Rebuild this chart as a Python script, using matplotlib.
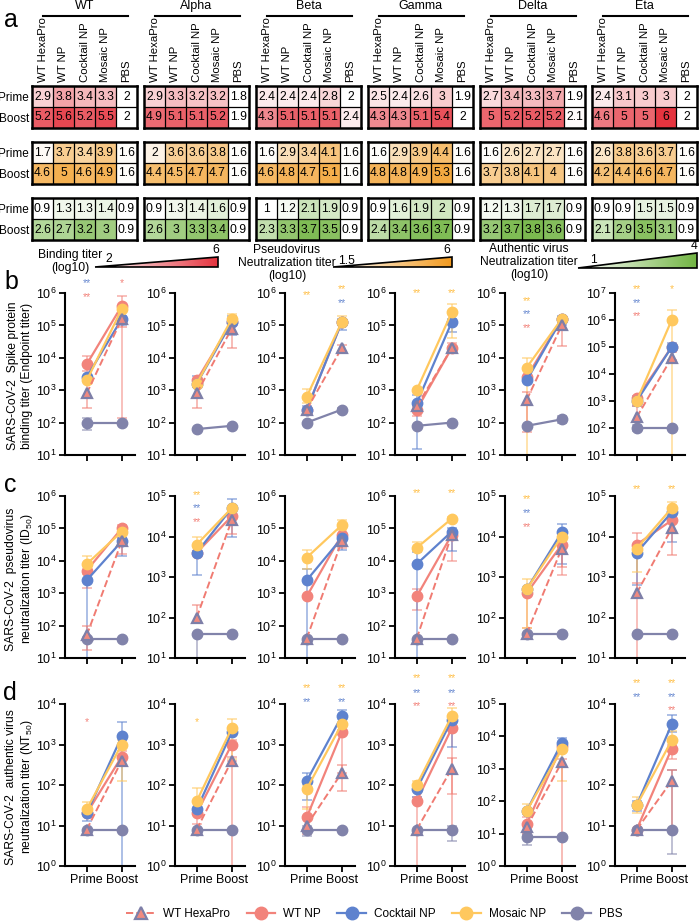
import numpy as np
import matplotlib
matplotlib.use("Agg")
import matplotlib.pyplot as plt
from matplotlib.colors import LinearSegmentedColormap, Normalize
from matplotlib.lines import Line2D
from matplotlib.patches import Polygon

plt.rcParams["font.family"] = ["Liberation Sans", "DejaVu Sans"]
plt.rcParams["mathtext.fontset"] = "custom"
plt.rcParams["mathtext.rm"] = "Liberation Sans"
plt.rcParams["mathtext.it"] = "Liberation Sans:italic"
plt.rcParams["mathtext.bf"] = "Liberation Sans:bold"

variants = ["WT", "Alpha", "Beta", "Gamma", "Delta", "Eta"]
groups = ["WT HexaPro", "WT NP", "Cocktail NP", "Mosaic NP", "PBS"]
timepoints = ["Prime", "Boost"]

# log10 mean titers, one row per variant, one column per group
binding_prime = [
    [2.9, 3.8, 3.4, 3.3, 2.0],
    [2.9, 3.3, 3.2, 3.2, 1.8],
    [2.4, 2.4, 2.4, 2.8, 2.0],
    [2.5, 2.4, 2.6, 3.0, 1.9],
    [2.7, 3.4, 3.3, 3.7, 1.9],
    [2.4, 3.1, 3.0, 3.0, 2.0],
]
binding_boost = [
    [5.2, 5.6, 5.2, 5.5, 2.0],
    [4.9, 5.1, 5.1, 5.2, 1.9],
    [4.3, 5.1, 5.1, 5.1, 2.4],
    [4.3, 4.3, 5.1, 5.4, 2.0],
    [5.0, 5.2, 5.2, 5.2, 2.1],
    [4.6, 5.0, 5.0, 6.0, 2.0],
]
pseudo_prime = [
    [1.7, 3.7, 3.4, 3.9, 1.6],
    [2.0, 3.6, 3.6, 3.8, 1.6],
    [1.6, 2.9, 3.4, 4.1, 1.6],
    [1.6, 2.9, 3.9, 4.4, 1.6],
    [1.6, 2.6, 2.7, 2.7, 1.6],
    [2.6, 3.8, 3.6, 3.7, 1.6],
]
pseudo_boost = [
    [4.6, 5.0, 4.6, 4.9, 1.6],
    [4.4, 4.5, 4.7, 4.7, 1.6],
    [4.6, 4.8, 4.7, 5.1, 1.6],
    [4.8, 4.8, 4.9, 5.3, 1.6],
    [3.7, 3.8, 4.1, 4.0, 1.6],
    [4.2, 4.4, 4.6, 4.7, 1.6],
]
auth_prime = [
    [0.9, 1.3, 1.3, 1.4, 0.9],
    [0.9, 1.3, 1.4, 1.6, 0.9],
    [1.0, 1.2, 2.1, 1.9, 0.9],
    [0.9, 1.6, 1.9, 2.0, 0.9],
    [1.2, 1.3, 1.7, 1.7, 0.9],
    [0.9, 0.9, 1.5, 1.5, 0.9],
]
auth_boost = [
    [2.6, 2.7, 3.2, 3.0, 0.9],
    [2.6, 3.0, 3.3, 3.4, 0.9],
    [2.3, 3.3, 3.7, 3.5, 0.9],
    [2.4, 3.4, 3.6, 3.7, 0.9],
    [3.2, 3.7, 3.8, 3.6, 0.9],
    [2.1, 2.9, 3.5, 3.1, 0.9],
]

# visible error bars, (variant, group, timepoint): (log10 low, log10 high)
binding_err = {
    (0, 0, 0): (2.44, 3.4), (0, 1, 0): (3.6, 4.05), (0, 4, 0): (1.77, 2.13),
    (0, 1, 1): (2.13, 5.9), (0, 2, 1): (5.0, 5.47), (0, 0, 1): (4.95, 5.3),
    (1, 0, 0): (2.44, 3.36), (1, 2, 0): (3.1, 3.45),
    (1, 3, 1): (5.1, 5.36), (1, 2, 1): (4.7, 5.3), (1, 0, 1): (4.3, 5.1),
    (2, 3, 0): (2.6, 3.05), (2, 2, 0): (2.3, 2.5),
    (2, 0, 1): (4.2, 4.4), (2, 2, 1): (4.85, 5.2), (2, 3, 1): (5.0, 5.3), (2, 4, 1): (2.3, 2.45),
    (3, 2, 0): (1.18, 2.85), (3, 1, 0): (2.2, 2.5),
    (3, 3, 1): (4.6, 5.65), (3, 2, 1): (4.8, 5.2), (3, 1, 1): (4.2, 4.45),
    (4, 3, 0): (1.0, 4.0), (4, 0, 0): (1.7, 2.95),
    (4, 0, 1): (4.37, 5.1), (4, 2, 1): (5.0, 5.3), (4, 4, 1): (2.0, 2.2),
    (5, 0, 0): (2.0, 2.8), (5, 4, 0): (1.9, 2.1), (5, 2, 0): (2.8, 3.2),
    (5, 3, 1): (1.0, 6.36), (5, 2, 1): (4.9, 5.15), (5, 0, 1): (4.5, 4.8),
}
pseudo_err = {
    (0, 3, 0): (3.6, 4.14), (0, 1, 0): (3.15, 3.9), (0, 2, 0): (1.0, 3.7), (0, 0, 0): (1.26, 1.98),
    (0, 2, 1): (4.14, 4.7), (0, 0, 1): (4.2, 4.7), (0, 1, 1): (4.9, 5.1),
    (1, 3, 0): (3.6, 4.0), (1, 2, 0): (3.06, 3.65), (1, 0, 0): (1.9, 2.31), (1, 4, 0): (1.0, 1.6),
    (1, 2, 1): (4.0, 4.92), (1, 0, 1): (4.05, 4.55),
    (2, 3, 0): (3.76, 4.32), (2, 2, 0): (1.0, 3.76),
    (2, 3, 1): (4.95, 5.25), (2, 2, 1): (4.32, 4.8), (2, 0, 1): (4.4, 4.75),
    (3, 3, 0): (4.3, 4.58), (3, 2, 0): (1.0, 4.27), (3, 1, 0): (2.47, 3.12),
    (3, 2, 1): (4.3, 5.0), (3, 1, 1): (4.0, 4.9), (3, 3, 1): (5.2, 5.35),
    (4, 3, 0): (1.74, 2.96), (4, 1, 0): (1.74, 2.7),
    (4, 2, 1): (3.33, 4.32), (4, 1, 1): (3.04, 3.9), (4, 0, 1): (3.25, 3.8), (4, 3, 1): (3.9, 4.1),
    (5, 3, 0): (3.12, 3.8), (5, 2, 0): (2.8, 3.7), (5, 1, 0): (1.0, 4.09), (5, 0, 0): (2.5, 2.85),
    (5, 3, 1): (4.6, 4.85), (5, 2, 1): (3.86, 4.7), (5, 0, 1): (3.55, 4.5),
}
auth_err = {
    (0, 3, 0): (1.3, 1.58), (0, 2, 0): (1.1, 1.4),
    (0, 2, 1): (0.0, 3.55), (0, 3, 1): (2.1, 3.1), (0, 1, 1): (2.5, 2.85),
    (1, 3, 0): (1.4, 1.93), (1, 1, 0): (1.03, 1.4),
    (1, 3, 1): (2.63, 3.63), (1, 1, 1): (2.6, 3.1), (1, 0, 1): (0.0, 2.7),
    (2, 2, 0): (1.64, 2.3), (2, 3, 0): (1.41, 2.0), (2, 1, 0): (0.8, 1.45), (2, 4, 0): (0.75, 1.0),
    (2, 2, 1): (3.5, 3.85), (2, 1, 1): (2.3, 3.5), (2, 0, 1): (1.85, 2.5),
    (3, 3, 0): (1.9, 2.1), (3, 2, 0): (1.7, 2.0), (3, 1, 0): (0.0, 1.7),
    (3, 3, 1): (3.5, 3.9), (3, 2, 1): (2.94, 3.7), (3, 1, 1): (1.77, 3.5), (3, 0, 1): (0.9, 2.67),
    (3, 4, 1): (0.62, 1.0),
    (4, 3, 0): (1.6, 1.9), (4, 1, 0): (1.1, 1.5), (4, 0, 0): (1.0, 1.3), (4, 4, 0): (0.65, 1.0),
    (4, 2, 1): (3.6, 3.95), (4, 3, 1): (2.62, 3.7), (4, 0, 1): (0.0, 3.3),
    (5, 3, 0): (1.3, 1.71), (5, 2, 0): (1.35, 1.6),
    (5, 2, 1): (3.3, 3.74), (5, 3, 1): (2.9, 3.33), (5, 1, 1): (2.63, 3.0), (5, 0, 1): (0.9, 2.38),
    (5, 4, 1): (0.29, 2.38),
}

# significance marks: (variant, timepoint, group, height in axes fraction, text)
binding_stars = [
    (0, 0, 2, 1.06, "**"), (0, 0, 1, 0.975, "**"), (0, 1, 1, 1.06, "*"),
    (2, 0, 3, 0.99, "**"), (2, 1, 3, 1.025, "**"), (2, 1, 2, 0.94, "**"),
    (3, 0, 3, 1.0, "**"), (3, 1, 3, 1.0, "**"),
    (4, 0, 3, 0.95, "**"), (4, 0, 2, 0.87, "**"), (4, 0, 1, 0.785, "**"),
    (5, 0, 3, 1.025, "**"), (5, 0, 2, 0.94, "**"), (5, 0, 1, 0.855, "**"), (5, 1, 3, 1.025, "*"),
]
pseudo_stars = [
    (1, 0, 3, 1.005, "**"), (1, 0, 2, 0.925, "**"), (1, 0, 1, 0.84, "**"),
    (3, 0, 3, 1.02, "**"), (3, 1, 3, 1.02, "**"),
    (4, 0, 3, 0.98, "**"), (4, 0, 2, 0.895, "**"), (4, 0, 1, 0.81, "**"),
    (5, 0, 3, 1.045, "**"), (5, 1, 3, 1.045, "**"),
]
auth_stars = [
    (0, 0, 1, 0.89, "*"), (1, 0, 3, 0.89, "*"),
    (2, 0, 3, 1.10, "**"), (2, 0, 2, 1.01, "**"), (2, 1, 3, 1.10, "**"), (2, 1, 2, 1.01, "**"),
    (3, 0, 3, 1.16, "**"), (3, 0, 2, 1.07, "**"), (3, 0, 1, 0.99, "**"),
    (3, 1, 3, 1.16, "**"), (3, 1, 2, 1.07, "**"), (3, 1, 1, 0.99, "**"),
    (5, 0, 3, 1.13, "**"), (5, 0, 2, 1.04, "**"),
    (5, 1, 3, 1.13, "**"), (5, 1, 2, 1.045, "**"), (5, 1, 1, 0.96, "**"),
]

binding_top = [6, 6, 6, 6, 6, 7]
pseudo_top = [6, 5, 6, 6, 5, 5]
auth_top = [4, 4, 4, 4, 5, 4]

colors = ["#F07B72", "#F2837B", "#5E82CE", "#FFC85E", "#8183AA"]
hexapro_edge = "#7E7FA8"
star_colors = ["#F08A80", "#F2837B", "#6A8AD0", "#FFC04A", "#8183AA"]

W, H = 700, 922


def fig_rect(x, y, w, h):
    # pixel box (top-left origin) to figure fraction
    return [x / W, 1 - (y + h) / H, w / W, h / H]


fig = plt.figure(figsize=(7, 9.22), dpi=100)

# ---------------- panel a: heatmaps ----------------
heat_sets = [
    (binding_prime, binding_boost, "#E5343F", 2, 6),
    (pseudo_prime, pseudo_boost, "#F29A1F", 1.5, 6),
    (auth_prime, auth_boost, "#72B543", 1, 4),
]
for a, (pr, bo, col, vmin, vmax) in enumerate(heat_sets):
    cmap = LinearSegmentedColormap.from_list("c%d" % a, ["#FFFFFF", col])
    norm = Normalize(vmin=vmin, vmax=vmax, clip=True)
    for v in range(6):
        ax = fig.add_axes(fig_rect(32 + 112 * v, 86 + 56 * a, 105, 42))
        vals = np.array([pr[v], bo[v]])
        ax.imshow(vals, cmap=cmap, norm=norm, aspect="auto")
        for i in range(2):
            for j in range(5):
                ax.text(j, i, "%g" % vals[i, j], ha="center", va="center", fontsize=8.7)
        for j in range(1, 5):
            ax.axvline(j - 0.5, color="black", lw=0.9)
        ax.axhline(0.5, color="black", lw=0.9)
        for s in ax.spines.values():
            s.set_linewidth(1.8)
        ax.set_xticks([])
        if v == 0:
            ax.set_yticks([0, 1])
            ax.set_yticklabels(timepoints, fontsize=8.5)
            ax.tick_params(axis="y", length=0, pad=2)
        else:
            ax.set_yticks([])
        if a == 0:
            for j, g in enumerate(groups):
                ax.text(j, -0.68, g, rotation=90, ha="center", va="bottom", fontsize=8.2)
            ax.plot([0.02, 4.05], [-3.85, -3.85], color="black", lw=1.5, clip_on=False)
            ax.text(2.0, -4.3, variants[v], ha="center", va="center", fontsize=9)
        ax.set_xlim(-0.5, 4.5)
        ax.set_ylim(1.5, -0.5)

# overlay in pixel coordinates for colour keys and panel letters
ov = fig.add_axes([0, 0, 1, 1])
ov.patch.set_visible(False)
ov.axis("off")

keys = [
    (heat_sets[0], 95, 218, 267, 257, "2", 109, 259, "6", 216, 250,
     ["Binding titer", "(log10)"], 70, [255, 268]),
    (heat_sets[1], 333, 452, 267, 257, "1.5", 347, 261, "6", 447, 250,
     ["Pseudovirus", "Neutralization titer", "(log10)"], 287, [250, 263, 276]),
    (heat_sets[2], 578, 697, 268, 253, "1", 593, 260, "4", 694, 246,
     ["Authentic virus", "Neutralization titer", "(log10)"], 529, [249, 262, 275]),
]
for (hs, x0, x1, yb, yt, lo_t, lx, ly, hi_t, hx, hy, lab, labx, laby) in keys:
    cm = LinearSegmentedColormap.from_list("k", ["#FFFFFF", hs[2]])
    grad = np.linspace(0, 1, 256).reshape(1, -1)
    im = ov.imshow(grad, cmap=cm, extent=(x0, x1, yb, yt), aspect="auto")
    tri = Polygon([[x0, yb], [x1, yb], [x1, yt]], closed=True, fc="none", ec="black", lw=1.2)
    ov.add_patch(tri)
    im.set_clip_path(tri)
    ov.text(lx, ly, lo_t, ha="center", va="center", fontsize=8.7)
    ov.text(hx, hy, hi_t, ha="center", va="center", fontsize=8.7)
    for t, yy in zip(lab, laby):
        ov.text(labx, yy, t, ha="center", va="center", fontsize=8.7)

for letter, (lx, ly) in zip("abcd", [(11, 20), (11, 282), (10, 485), (10, 693)]):
    ov.text(lx, ly, letter, ha="center", va="center", fontsize=18)
ov.set_xlim(0, W)
ov.set_ylim(H, 0)

# ---------------- panels b-d: line plots ----------------
rows = [
    (binding_prime, binding_boost, binding_err, binding_stars, binding_top, 1, 293,
     "SARS-CoV-2  Spike protein\nbinding titer (Endpoint titer)"),
    (pseudo_prime, pseudo_boost, pseudo_err, pseudo_stars, pseudo_top, 1, 496,
     "SARS-CoV-2  pseudovirus\nneutralization titer (ID$_{50}$)"),
    (auth_prime, auth_boost, auth_err, auth_stars, auth_top, 0, 704,
     "SARS-CoV-2  authentic virus\nneutralization titer (NT$_{50}$)"),
]
draw_order = [1, 2, 3, 4, 0]
for r, (pr, bo, err, stars, tops, bottom, ytop, ylab) in enumerate(rows):
    for v in range(6):
        ax = fig.add_axes(fig_rect(65 + 110 * v, ytop, 70, 162))
        ax.set_yscale("log")
        for z, g in enumerate(draw_order):
            yv = 10 ** np.array([pr[v][g], bo[v][g]])
            for t in range(2):
                if (v, g, t) in err:
                    lo, hi = err[(v, g, t)]
                    ax.errorbar([t], [yv[t]], yerr=[[yv[t] - 10 ** lo], [10 ** hi - yv[t]]],
                                fmt="none", ecolor=colors[g], alpha=0.55, capsize=3.5,
                                elinewidth=1.3, capthick=1.3, zorder=2)
            if g == 0:
                ax.plot([0, 1], yv, ls="--", color=colors[0], lw=1.4, marker="^", ms=7.5,
                        mfc="#F08A80", mec=hexapro_edge, mew=1.6, zorder=5)
            else:
                ax.plot([0, 1], yv, color=colors[g], lw=1.6, marker="o", ms=7.5,
                        mfc=colors[g], mec=colors[g], zorder=3 + 0.1 * z)
        for (sv, st, sg, sy, stxt) in stars:
            if sv == v:
                ax.text(st, sy, stxt, transform=ax.get_xaxis_transform(), ha="center",
                        va="center", fontsize=7.5, color=star_colors[sg], clip_on=False)
        ax.set_ylim(10 ** bottom, 10 ** tops[v])
        ax.set_yticks(10.0 ** np.arange(bottom, tops[v] + 1))
        ax.yaxis.set_minor_locator(matplotlib.ticker.NullLocator())
        ax.set_xlim(-0.62, 1.38)
        ax.set_xticks([0, 1])
        if r == 2:
            ax.set_xticklabels(timepoints, fontsize=8.5)
        else:
            ax.set_xticklabels([])
        for side in ["top", "right"]:
            ax.spines[side].set_visible(False)
        for side in ["left", "bottom"]:
            ax.spines[side].set_linewidth(1.5)
        ax.tick_params(width=1.3, length=4, labelsize=9, pad=2)
    fig.text(20 / W, 1 - (ytop + 83) / H, ylab, rotation=90, ha="center", va="center",
             fontsize=8.7, linespacing=1.15)

# ---------------- legend ----------------
handles = [
    Line2D([], [], ls="--", color=colors[0], lw=1.4, marker="^", ms=9, mfc="#F08A80",
           mec=hexapro_edge, mew=1.6),
]
for g in range(1, 5):
    handles.append(Line2D([], [], color=colors[g], lw=1.6, marker="o", ms=9, mfc=colors[g],
                          mec=colors[g]))
fig.legend(handles, groups, loc="center", bbox_to_anchor=(0.535, 1 - 914 / H), ncol=5,
           frameon=False, fontsize=8.5, handlelength=2.4, columnspacing=1.4, handletextpad=0.7)

fig.savefig("out.png", dpi=100)
